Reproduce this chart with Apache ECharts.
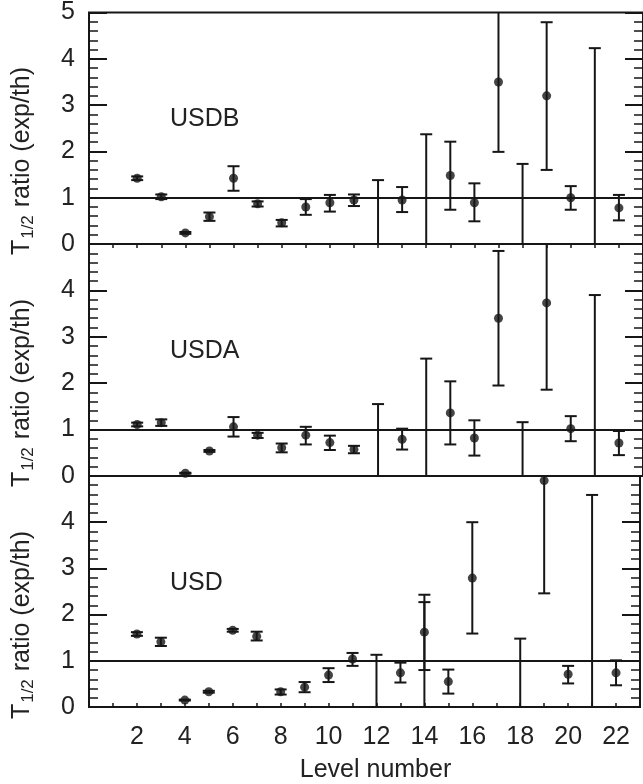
<!DOCTYPE html>
<html>
<head>
<meta charset="utf-8">
<script src="https://cdn.jsdelivr.net/npm/echarts@6/dist/echarts.min.js"></script>
<style>
  html, body { margin: 0; padding: 0; background: #ffffff; }
  #chart { width: 643px; height: 784px; }
</style>
</head>
<body>
<div id="chart"></div>
<script>
// Half-life ratios T1/2(exp)/T1/2(th) per level, for three shell-model interactions.

// USDB
const usdbLevels = [2, 3, 4, 5, 6, 7, 8, 9, 10, 11, 13, 15, 16, 17, 19, 20, 22];
const usdbRatio  = [1.42, 1.02, 0.24, 0.59, 1.42, 0.87, 0.46, 0.80, 0.89, 0.95, 0.95, 1.48, 0.89, 3.50, 3.20, 1.00, 0.78];
const usdbLow    = [1.38, 0.97, 0.22, 0.50, 1.15, 0.81, 0.38, 0.63, 0.70, 0.82, 0.69, 0.74, 0.49, 1.99, 1.60, 0.74, 0.51];
const usdbHigh   = [1.46, 1.07, 0.26, 0.68, 1.68, 0.92, 0.52, 0.97, 1.06, 1.07, 1.23, 2.21, 1.31, 5.01, 4.79, 1.25, 1.06];
const usdbLimitLevels = [12, 14, 18, 21];
const usdbLimits      = [1.38, 2.37, 1.73, 4.23];

// USDA
const usdaLevels = [2, 3, 4, 5, 6, 7, 8, 9, 10, 11, 13, 15, 16, 17, 19, 20, 22];
const usdaRatio  = [1.11, 1.15, 0.06, 0.54, 1.06, 0.88, 0.61, 0.88, 0.72, 0.57, 0.79, 1.36, 0.82, 3.40, 3.73, 1.02, 0.71];
const usdaLow    = [1.07, 1.08, 0.05, 0.52, 0.85, 0.82, 0.51, 0.68, 0.56, 0.49, 0.57, 0.68, 0.44, 1.95, 1.86, 0.75, 0.45];
const usdaHigh   = [1.15, 1.22, 0.07, 0.56, 1.27, 0.93, 0.70, 1.06, 0.87, 0.65, 1.02, 2.04, 1.20, 4.85, 5.60, 1.29, 0.97];
const usdaLimitLevels = [12, 14, 18, 21];
const usdaLimits      = [1.55, 2.53, 1.16, 3.90];

// USD
const usdLevels = [2, 3, 4, 5, 6, 7, 8, 9, 10, 11, 13, 14, 15, 16, 19, 20, 22];
const usdRatio  = [1.58, 1.41, 0.15, 0.33, 1.66, 1.53, 0.33, 0.43, 0.69, 1.04, 0.74, 1.62, 0.55, 2.79, 4.90, 0.71, 0.74];
const usdLow    = [1.54, 1.32, 0.14, 0.31, 1.63, 1.44, 0.27, 0.32, 0.54, 0.89, 0.53, 0.80, 0.29, 1.59, 2.46, 0.51, 0.47];
const usdHigh   = [1.62, 1.50, 0.16, 0.35, 1.69, 1.63, 0.38, 0.54, 0.84, 1.17, 0.96, 2.43, 0.81, 4.00, 7.34, 0.89, 1.01];
const usdLimitLevels = [12, 14, 18, 21];
const usdLimits      = [1.13, 2.27, 1.48, 4.59];

const yTickValues = [0, 1, 2, 3, 4, 5];
const xLabelValues = [2, 4, 6, 8, 10, 12, 14, 16, 18, 20, 22];
const referenceRatio = 1;

const panels = [
  { name: 'USDB', levels: usdbLevels, ratio: usdbRatio, low: usdbLow, high: usdbHigh, limitLevels: usdbLimitLevels, limits: usdbLimits },
  { name: 'USDA', levels: usdaLevels, ratio: usdaRatio, low: usdaLow, high: usdaHigh, limitLevels: usdaLimitLevels, limits: usdaLimits },
  { name: 'USD',  levels: usdLevels,  ratio: usdRatio,  low: usdLow,  high: usdHigh,  limitLevels: usdLimitLevels,  limits: usdLimits }
];

const FONT = '"Liberation Sans", Arial, Helvetica, sans-serif';
const INK = '#161616';
const GRID_LEFT = 89;
const GRID_WIDTH = 556;
const GRID_TOPS = [12, 244, 476];
const GRID_HEIGHT = 232;

// Vertical error bar; rows are [level, low, high, hasLowerCap].
// Bars that run past the top of a panel are cut at the frame and lose their cap.
function renderErrorBar(params, api) {
  const x = api.value(0);
  const lo = api.value(1);
  const hi = api.value(2);
  const lowerCap = api.value(3) === 1;
  const cs = params.coordSys;
  const a = api.coord([x, lo]);
  const b = api.coord([x, hi]);
  const clipped = b[1] < cs.y;
  const yTop = clipped ? cs.y : b[1];
  const w = 6;
  const style = { stroke: INK, lineWidth: 2 };
  const children = [
    { type: 'line', shape: { x1: a[0], y1: a[1], x2: a[0], y2: yTop }, style: style }
  ];
  if (!clipped) {
    children.push({ type: 'line', shape: { x1: b[0] - w, y1: b[1], x2: b[0] + w, y2: b[1] }, style: style });
  }
  if (lowerCap) {
    children.push({ type: 'line', shape: { x1: a[0] - w, y1: a[1], x2: a[0] + w, y2: a[1] }, style: style });
  }
  return { type: 'group', children: children };
}

const grids = [];
const xAxes = [];
const yAxes = [];
const series = [];
const graphics = [];

panels.forEach(function (p, i) {
  grids.push({
    left: GRID_LEFT, width: GRID_WIDTH, top: GRID_TOPS[i], height: GRID_HEIGHT,
    show: true, borderColor: INK, borderWidth: 2, backgroundColor: 'transparent'
  });

  xAxes.push({
    gridIndex: i, type: 'value', min: 0, max: 23, interval: 1,
    position: i === 0 ? 'top' : 'bottom',
    axisLine: { show: false },
    axisTick: { show: i !== 1, inside: true, length: 4, lineStyle: { color: INK, width: 1.5 } },
    axisLabel: {
      show: i === 2, margin: 18, color: '#222', fontFamily: FONT, fontSize: 25,
      formatter: function (v) { return xLabelValues.indexOf(v) >= 0 ? String(v) : ''; }
    },
    splitLine: { show: false },
    name: i === 2 ? 'Level number' : '',
    nameLocation: 'middle', nameGap: 51,
    nameTextStyle: { color: '#222', fontFamily: FONT, fontSize: 25, padding: [0, 0, 0, 22] }
  });

  const yBase = {
    gridIndex: i, type: 'value', min: 0, max: 5, interval: 1,
    axisLine: { show: false },
    axisTick: { show: true, inside: true, length: 18, lineStyle: { color: INK, width: 2 } },
    minorTick: { show: true, splitNumber: 5, length: 9, lineStyle: { color: INK, width: 1.5 } },
    splitLine: { show: false }
  };
  yAxes.push(Object.assign({}, yBase, {
    position: 'left',
    axisLabel: {
      show: true, margin: 14, color: '#222', fontFamily: FONT, fontSize: 25,
      formatter: function (v) {
        if (yTickValues.indexOf(v) < 0) return '';
        return (i > 0 && v === 5) ? '' : String(v);
      }
    }
  }));
  yAxes.push(Object.assign({}, yBase, { position: 'right', axisLabel: { show: false } }));

  const bars = p.levels.map(function (lv, k) { return [lv, p.low[k], p.high[k], 1]; })
    .concat(p.limitLevels.map(function (lv, k) { return [lv, 0, p.limits[k], 0]; }));

  series.push({
    type: 'custom', xAxisIndex: i, yAxisIndex: 2 * i,
    renderItem: renderErrorBar,
    encode: { x: 0, y: [1, 2] },
    data: bars, silent: true, z: 3
  });

  series.push({
    type: 'scatter', xAxisIndex: i, yAxisIndex: 2 * i,
    symbol: 'circle', symbolSize: 9,
    itemStyle: { color: INK },
    data: p.levels.map(function (lv, k) { return [lv, p.ratio[k]]; }),
    silent: true, z: 4,
    markLine: {
      silent: true, symbol: 'none', label: { show: false },
      lineStyle: { color: INK, width: 2, type: 'solid' },
      data: [{ yAxis: referenceRatio }]
    }
  });

  const centerY = GRID_TOPS[i] + GRID_HEIGHT / 2;
  graphics.push({
    type: 'text', x: 170, y: centerY - 9,
    style: { text: p.name, fill: '#222', font: '25px ' + FONT, align: 'left', verticalAlign: 'middle' }
  });
  graphics.push({
    type: 'text', x: 22, y: centerY + 33, rotation: Math.PI / 2,
    style: {
      text: '{t|T}{s|1/2}{t| ratio (exp/th)}',
      align: 'center', verticalAlign: 'middle', fill: '#222',
      rich: {
        t: { fontFamily: FONT, fontSize: 25, lineHeight: 30, fill: '#222' },
        s: { fontFamily: FONT, fontSize: 17, lineHeight: 17, fill: '#222', verticalAlign: 'bottom', padding: [7, 1, 0, 1] }
      }
    }
  });
});

const chart = echarts.init(document.getElementById('chart'), null, { renderer: 'canvas' });
chart.setOption({
  animation: false,
  backgroundColor: '#ffffff',
  grid: grids,
  xAxis: xAxes,
  yAxis: yAxes,
  series: series,
  graphic: graphics
});
</script>
</body>
</html>
